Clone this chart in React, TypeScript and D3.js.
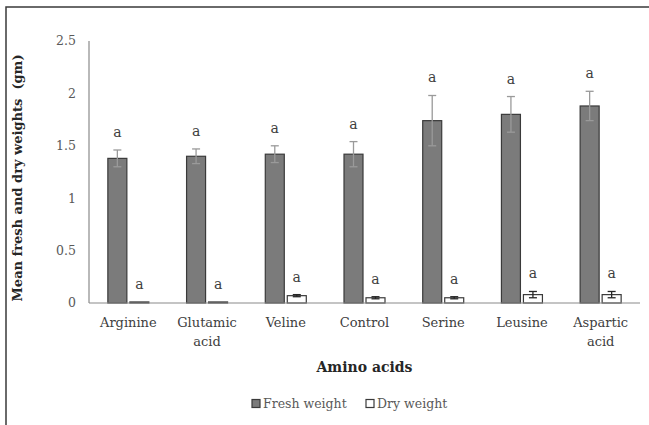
import React from 'react';
import * as d3 from 'd3';

const categories = ['Arginine', 'Glutamic acid', 'Veline', 'Control', 'Serine', 'Leusine', 'Aspartic acid'];
const freshWeight = [1.38, 1.40, 1.42, 1.42, 1.74, 1.80, 1.88];
const freshError = [0.08, 0.07, 0.08, 0.12, 0.24, 0.17, 0.14];
const dryWeight = [0.01, 0.01, 0.07, 0.05, 0.05, 0.08, 0.08];
const dryError = [0, 0, 0.01, 0.01, 0.01, 0.03, 0.03];
const letters = ['a', 'a', 'a', 'a', 'a', 'a', 'a'];
const yTicks = [0, 0.5, 1, 1.5, 2, 2.5];

const W = 649;
const H = 425;
const margin = { left: 89, right: 9, top: 41, bottom: 122 };
const font = "'DejaVu Serif', serif";

const App: React.FC = () => {
  const x = d3.scaleBand().domain(categories).range([margin.left, W - margin.right]).paddingInner(0).paddingOuter(0);
  const y = d3.scaleLinear().domain([0, 2.5]).range([H - margin.bottom, margin.top]);
  const barW = 19;
  const gap = 3;

  const series = [
    { key: 'fresh', values: freshWeight, errors: freshError, fill: '#7b7b7b', errColor: '#9a9a9a', offset: -gap / 2 - barW },
    { key: 'dry', values: dryWeight, errors: dryError, fill: '#ffffff', errColor: '#262626', offset: gap / 2 },
  ];

  return (
    <svg width={W} height={H} style={{ position: 'absolute', left: 0, top: 0, background: '#fff', fontFamily: font }}>
      <rect x={6} y={7} width={W} height={H} fill="none" stroke="#3a3a3a" strokeWidth={1.5} />

      {/* y axis labels */}
      {yTicks.map((t) => (
        <text key={t} x={76} y={y(t)} dy="0.35em" textAnchor="end" fontSize={12.5} fill="#595959">
          {d3.format('~g')(t)}
        </text>
      ))}
      <line x1={margin.left} x2={margin.left} y1={y(2.5)} y2={y(0)} stroke="#8a8a8a" strokeWidth={1.2} />

      {/* bars */}
      {series.map((s) =>
        categories.map((c, i) => {
          const cx = (x(c) as number) + x.bandwidth() / 2;
          const bx = cx + s.offset;
          const v = s.values[i];
          const e = s.errors[i];
          const mid = bx + barW / 2;
          const errTop = y(v + e);
          return (
            <g key={s.key + c}>
              <rect x={bx} y={y(v)} width={barW} height={y(0) - y(v)} fill={s.fill} stroke="#3a3a3a" strokeWidth={1.2} />
              {e > 0 && (
                <g stroke={s.errColor} strokeWidth={1.3}>
                  <line x1={mid} x2={mid} y1={y(v + e)} y2={y(Math.max(0, v - e))} />
                  <line x1={mid - 4} x2={mid + 4} y1={y(v + e)} y2={y(v + e)} />
                  <line x1={mid - 4} x2={mid + 4} y1={y(Math.max(0, v - e))} y2={y(Math.max(0, v - e))} />
                </g>
              )}
              <text x={mid} y={errTop - 13} textAnchor="middle" fontSize={14} fill="#404040">
                {letters[i]}
              </text>
            </g>
          );
        })
      )}

      <line x1={margin.left} x2={W - margin.right} y1={y(0)} y2={y(0)} stroke="#8a8a8a" strokeWidth={1.2} />

      {/* category labels */}
      {categories.map((c) => {
        const words = c.split(' ');
        const cx = (x(c) as number) + x.bandwidth() / 2;
        return (
          <text key={c} x={cx} y={327} textAnchor="middle" fontSize={13} fill="#404040">
            {words.map((w, j) => (
              <tspan key={j} x={cx} dy={j === 0 ? 0 : 19}>
                {w}
              </tspan>
            ))}
          </text>
        );
      })}

      <text x={(margin.left + W - margin.right) / 2} y={372} textAnchor="middle" fontSize={14} fontWeight="bold" fill="#262626">
        Amino acids
      </text>
      <text
        transform={`translate(22,${(y(0) + y(2.5)) / 2 + 6}) rotate(-90)`}
        textAnchor="middle"
        fontSize={13}
        fontWeight="bold"
        fill="#262626"
        style={{ whiteSpace: 'pre' }}
      >
        Mean fresh and dry weights  (gm)
      </text>

      {/* legend */}
      <g fontSize={12.5} fill="#595959">
        <rect x={252} y={399.5} width={8} height={8} fill="#7b7b7b" stroke="#3a3a3a" strokeWidth={1.2} />
        <text x={263} y={408}>Fresh weight</text>
        <rect x={366} y={399.5} width={8} height={8} fill="#fff" stroke="#3a3a3a" strokeWidth={1.2} />
        <text x={377} y={408}>Dry weight</text>
      </g>
    </svg>
  );
};

export default App;
